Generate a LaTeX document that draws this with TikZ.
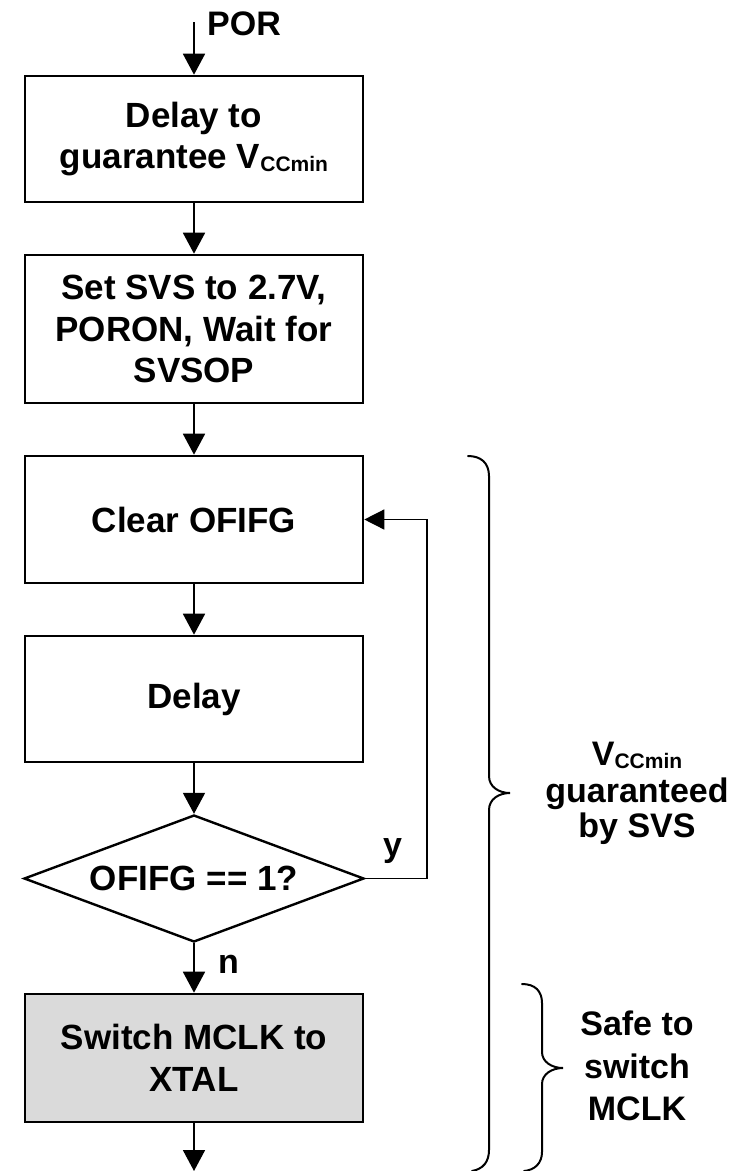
\documentclass[tikz,border=0pt]{standalone}
\usepackage{fontspec}
\setmainfont{Liberation Sans}
\usetikzlibrary{arrows.meta,shapes.geometric}
\definecolor{fillgray}{RGB}{218,218,218}
\newcommand\subx[1]{\raisebox{-3pt}{\fontsize{21}{21}\selectfont #1}}
\begin{document}
\begin{tikzpicture}[x=1pt,y=-1pt,
  txt/.style={font=\bfseries\fontsize{35}{41.5}\selectfont, align=center},
  stepbox/.style={txt, draw, line width=2.6pt, minimum width=338pt, inner sep=0pt, anchor=center},
  decbox/.style={txt, draw, diamond, aspect=2.68, line width=2.4pt, minimum width=340pt, minimum height=127pt, inner sep=0pt},
  flow/.style={line width=1.8pt, -{Triangle[width=22pt,length=21pt]}},
  loopline/.style={line width=1.4pt, -{Triangle[width=20pt,length=20pt]}},
  brace/.style={line width=2pt, line cap=round},
  lbl/.style={font=\bfseries\fontsize{34}{34}\selectfont, inner sep=0pt}
]
\useasboundingbox (0,0) rectangle (750,1171);
\fill[white] (0,0) rectangle (750,1171);

\node[stepbox, minimum height=126pt] (b1) at (194,139) {Delay to\\guarantee V\subx{CCmin}};
\node[stepbox, minimum height=148pt] (b2) at (194,329) {Set SVS to 2.7V,\\PORON, Wait for\\SVSOP};
\node[stepbox, minimum height=127pt] (b3) at (194,519.5) {Clear OFIFG};
\node[stepbox, minimum height=126pt] (b4) at (194,699) {Delay};
\node[decbox] (d) at (194,878.5) {OFIFG == 1?};
\node[stepbox, minimum height=128pt, fill=fillgray] (b5) at (194,1058) {Switch MCLK to\\XTAL};

\coordinate (start) at (194,22);
\coordinate (end) at (194,1171);
\coordinate (lp) at (427,878.5);

\draw[flow] (start) -- (b1.north);
\draw[flow] (b1.south) -- (b2.north);
\draw[flow] (b2.south) -- (b3.north);
\draw[flow] (b3.south) -- (b4.north);
\draw[flow] (b4.south) -- (d.north);
\draw[flow] (d.south) -- (b5.north);
\draw[flow] (b5.south) -- (end);
\draw[loopline] (d.east) -- (lp) |- (b3.east);

\node[lbl, anchor=base west] (por) at (207,35) {POR};
\node[lbl, anchor=base west] (ylab) at (383,856) {y};
\node[lbl, anchor=base west] (nlab) at (218,973) {n};

% big brace
\draw[brace] (468,456) .. controls (481,456) and (489,463) .. (489,476)
  -- (489,776) .. controls (489,787) and (499,793) .. (510,793)
  .. controls (499,793) and (489,799) .. (489,810)
  -- (489,1150) .. controls (489,1162) and (483,1169) .. (472,1171);
% small brace
\draw[brace] (522,984) .. controls (535,984) and (542,991) .. (542,1003)
  -- (542,1052) .. controls (542,1062) and (552,1068) .. (563,1068)
  .. controls (552,1068) and (542,1074) .. (542,1084)
  -- (542,1152) .. controls (542,1163) and (535,1170) .. (524,1171);

\node[txt, font=\bfseries\fontsize{34}{35}\selectfont] (t1) at (637,793) {V\subx{CCmin}\\[2pt]guaranteed\\by SVS};
\node[txt, font=\bfseries\fontsize{34}{42.5}\selectfont] (t2) at (637,1066) {Safe to\\switch\\MCLK};
\end{tikzpicture}
\end{document}
